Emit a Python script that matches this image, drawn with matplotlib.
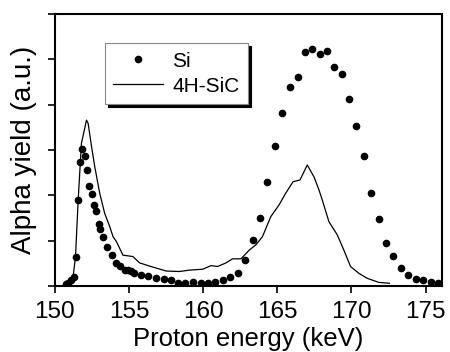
import matplotlib
matplotlib.use("Agg")
import matplotlib.pyplot as plt
import numpy as np

plt.rcParams['font.family'] = ['Liberation Sans', 'DejaVu Sans']

# Si (dots)
si_energy = [150.72, 150.89, 151.08, 151.28, 151.41, 151.57, 151.68, 151.86, 152.02, 152.17,
             152.31, 152.49, 152.64, 152.80, 152.96, 153.07, 153.23, 153.51, 153.83, 154.12,
             154.42, 154.70, 154.93, 155.15, 155.31, 155.83, 156.30, 156.83, 157.35, 157.80,
             158.33, 158.78, 159.29, 159.83, 160.30, 160.82, 161.35, 161.83, 162.32, 162.82,
             163.33, 163.82, 164.33, 164.83, 165.34, 165.86, 166.38, 166.85, 167.36, 167.86,
             168.35, 168.84, 169.33, 169.85, 170.34, 170.85, 171.35, 171.84, 172.33, 172.83,
             173.32, 173.81, 174.33, 174.82, 175.34, 175.83]
si_yield = [0.04, 0.07, 0.13, 0.20, 0.64, 1.89, 2.74, 3.02, 2.87, 2.56,
            2.21, 2.04, 1.79, 1.65, 1.36, 1.25, 1.09, 0.85, 0.69, 0.51,
            0.44, 0.36, 0.35, 0.32, 0.28, 0.24, 0.21, 0.18, 0.16, 0.13,
            0.07, 0.07, 0.09, 0.07, 0.07, 0.09, 0.14, 0.20, 0.29, 0.57,
            1.02, 1.49, 2.30, 3.09, 3.81, 4.39, 4.61, 5.16, 5.23, 5.12,
            5.19, 4.83, 4.68, 4.12, 3.54, 2.86, 2.05, 1.47, 0.94, 0.66,
            0.39, 0.24, 0.16, 0.13, 0.09, 0.06]

# 4H-SiC (line)
sic_energy = [150.67, 151.23, 151.39, 151.57, 151.79, 152.13, 152.24, 152.47, 152.69, 153.02,
              153.36, 153.70, 153.92, 154.15, 154.59, 155.26, 155.71, 156.38, 157.51, 158.40,
              159.07, 159.97, 160.53, 160.97, 161.54, 161.98, 162.55, 163.10, 163.56, 164.00,
              164.56, 165.12, 165.57, 166.06, 166.53, 167.02, 167.47, 167.81, 168.03, 168.48,
              169.04, 169.49, 169.94, 170.50, 171.06, 171.84, 172.56]
sic_yield = [0.02, 0.21, 0.65, 1.90, 3.15, 3.66, 3.59, 3.08, 2.63, 2.05,
             1.60, 1.31, 1.09, 0.98, 0.68, 0.65, 0.51, 0.44, 0.33, 0.32,
             0.35, 0.37, 0.45, 0.43, 0.51, 0.60, 0.60, 0.79, 0.91, 1.09,
             1.53, 1.79, 2.05, 2.30, 2.34, 2.67, 2.41, 2.12, 1.90, 1.42,
             1.13, 0.79, 0.43, 0.28, 0.17, 0.08, 0.06]

xticks = [150, 155, 160, 165, 170, 175]

fig = plt.figure(figsize=(4.5, 3.52), dpi=100, facecolor='white')
ax = fig.add_axes([0.122, 0.1875, 0.86, 0.7725])

ax.plot(si_energy, si_yield, 'o', color='black', markersize=4.5, label='Si')
ax.plot(sic_energy, sic_yield, '-', color='black', linewidth=0.9, label='4H-SiC')

ax.set_xlim(150, 176.1)
ax.set_ylim(0, 6)
ax.set_xticks(xticks)
ax.set_yticks(np.arange(0, 7, 1))
ax.set_yticklabels([])
ax.tick_params(axis='both', direction='out', length=5, width=1.2, labelsize=17.5,
               top=False, right=False, pad=6)
for s in ax.spines.values():
    s.set_linewidth(1.5)

ax.set_xlabel('Proton energy (keV)', fontsize=18.5, labelpad=3)
ax.set_ylabel('Alpha yield (a.u.)', fontsize=20, labelpad=2)

leg = ax.legend(loc='upper left', bbox_to_anchor=(0.129, 0.893), fontsize=15,
                fancybox=False, shadow={'color': 'black', 'alpha': 1.0},
                edgecolor='#888888', framealpha=1, borderaxespad=0,
                handlelength=2.4, handletextpad=0.45, borderpad=0.4, labelspacing=0.3)
leg.get_frame().set_linewidth(0.8)

fig.savefig('out.png', dpi=100, facecolor='white')
